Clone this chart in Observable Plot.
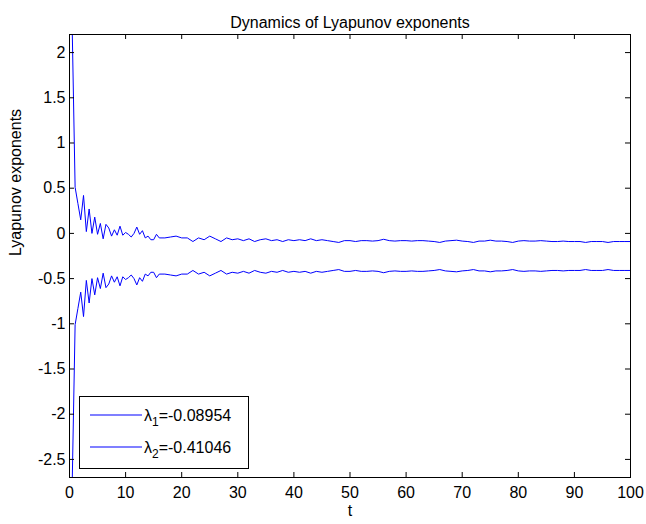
<!DOCTYPE html>
<html><head><meta charset="utf-8">
<script src="https://cdn.jsdelivr.net/npm/d3@7"></script>
<script src="https://cdn.jsdelivr.net/npm/@observablehq/plot@0.6"></script>
<style>
body{margin:0;background:#fff}
#chart svg{font-family:"Liberation Sans",Arial,Helvetica,sans-serif}
</style>
</head><body><div id="chart"></div><script>
const t = [0.5,1,1.5,2,2.5,3,3.5,4,4.5,5,5.5,6,6.5,7,7.5,8,8.5,9,9.5,10,10.5,11,11.5,12,12.5,13,13.5,14,14.5,15,15.5,16,
17,18,19,20,21,22,23,24,25,26,27,28,29,30,31,32,33,34,35,36,37,38,39,40,41,42,43,44,45,46,47,48,49,50,
51,52,53,54,55,56,57,58,59,60,61,62,63,64,65,66,67,68,69,70,71,72,73,74,75,76,77,78,79,80,
81,82,83,84,85,86,87,88,89,90,91,92,93,94,95,96,97,98,99,100];
const lambda1 = [2.20,0.51,0.33,0.15,0.42,0.02,0.27,0.00,0.18,-0.01,0.11,-0.06,0.10,0.06,-0.03,0.04,-0.02,0.08,-0.02,0.01,-0.01,-0.04,0.00,0.07,-0.01,0.03,-0.05,-0.03,-0.07,-0.07,-0.01,-0.05,
-0.05,-0.04,-0.03,-0.05,-0.05,-0.09,-0.05,-0.07,-0.03,-0.06,-0.09,-0.05,-0.07,-0.06,-0.08,-0.06,-0.09,-0.07,-0.06,-0.08,-0.07,-0.09,-0.07,-0.08,-0.07,-0.08,-0.06,-0.08,-0.07,-0.08,-0.09,-0.10,-0.08,-0.08,
-0.09,-0.08,-0.08,-0.085,-0.08,-0.065,-0.08,-0.085,-0.08,-0.08,-0.085,-0.08,-0.08,-0.085,-0.09,-0.10,-0.085,-0.08,-0.075,-0.085,-0.09,-0.10,-0.085,-0.085,-0.075,-0.085,-0.085,-0.09,-0.10,-0.085,
-0.08,-0.085,-0.085,-0.08,-0.085,-0.09,-0.09,-0.085,-0.09,-0.09,-0.09,-0.10,-0.09,-0.09,-0.09,-0.10,-0.09,-0.09,-0.09,-0.09];
const lambda2 = [-2.70,-1.01,-0.83,-0.65,-0.92,-0.52,-0.77,-0.50,-0.68,-0.49,-0.61,-0.44,-0.60,-0.56,-0.47,-0.54,-0.48,-0.58,-0.48,-0.51,-0.49,-0.46,-0.50,-0.57,-0.49,-0.53,-0.45,-0.47,-0.43,-0.43,-0.49,-0.45,
-0.45,-0.46,-0.47,-0.45,-0.45,-0.41,-0.45,-0.43,-0.47,-0.44,-0.41,-0.45,-0.43,-0.44,-0.42,-0.44,-0.41,-0.43,-0.44,-0.42,-0.43,-0.41,-0.43,-0.42,-0.43,-0.42,-0.44,-0.42,-0.43,-0.42,-0.41,-0.40,-0.42,-0.42,
-0.41,-0.42,-0.42,-0.415,-0.42,-0.435,-0.42,-0.415,-0.42,-0.42,-0.415,-0.42,-0.42,-0.415,-0.41,-0.40,-0.415,-0.42,-0.425,-0.415,-0.41,-0.40,-0.415,-0.415,-0.425,-0.415,-0.415,-0.41,-0.40,-0.415,
-0.42,-0.415,-0.415,-0.42,-0.415,-0.41,-0.41,-0.415,-0.41,-0.41,-0.41,-0.40,-0.41,-0.41,-0.41,-0.40,-0.41,-0.41,-0.41,-0.41];
const xTicks = [0,10,20,30,40,50,60,70,80,90,100];
const yTicks = [-2.5,-2,-1.5,-1,-0.5,0,0.5,1,1.5,2];
const seriesIndex = ["1","2"];
const finalValues = ["-0.08954","-0.41046"];
const titleText = "Dynamics of Lyapunov exponents";
const xLabel = "t";
const yLabel = "Lyapunov exponents";

const W = 646, H = 524, mL = 69, mR = 16, mT = 34, mB = 47;
const fw = W - mL - mR, fh = H - mT - mB;
const lineColor = "#0000ff";

const s1 = t.map((d, i) => ({t: d, v: lambda1[i]}));
const s2 = t.map((d, i) => ({t: d, v: lambda2[i]}));

const chart = Plot.plot({
  width: W, height: H,
  marginLeft: mL, marginRight: mR, marginTop: mT, marginBottom: mB,
  style: {fontSize: "16px", background: "#fff", color: "#000", overflow: "visible"},
  x: {domain: [0, 100]},
  y: {domain: [-2.7, 2.2]},
  marks: [
    Plot.line(s1, {x: "t", y: "v", stroke: lineColor, strokeWidth: 1}),
    Plot.line(s2, {x: "t", y: "v", stroke: lineColor, strokeWidth: 1}),
    Plot.tickX(xTicks, {x: d => d, insetTop: fh - 5, stroke: "#000"}),
    Plot.tickX(xTicks, {x: d => d, insetBottom: fh - 5, stroke: "#000"}),
    Plot.tickY(yTicks, {y: d => d, insetRight: fw - 5, stroke: "#000"}),
    Plot.tickY(yTicks, {y: d => d, insetLeft: fw - 5, stroke: "#000"}),
    Plot.axisX(xTicks, {tickSize: 0, tickPadding: 9, label: null, tickFormat: d => String(d)}),
    Plot.axisY(yTicks, {tickSize: 0, tickPadding: 4, label: null, tickFormat: d => String(d)}),
    Plot.frame({stroke: "#000"}),
    Plot.text([titleText], {text: d => d, frameAnchor: "top", dy: -18, fontSize: 16}),
    Plot.text([xLabel], {text: d => d, frameAnchor: "bottom", dy: 38, fontSize: 16}),
    Plot.text([yLabel], {text: d => d, frameAnchor: "left", dx: -54, rotate: -90, fontSize: 16})
  ]
});
document.getElementById("chart").appendChild(chart);

// legend box (MATLAB style, lower-left inside the axes)
const svg = d3.select(chart);
const lg = svg.append("g").attr("font-size", 16).attr("text-anchor", "start");
const bx = 79, by = 396, bw = 169, bh = 72;
lg.append("rect").attr("x", bx + 0.5).attr("y", by + 0.5).attr("width", bw).attr("height", bh)
  .attr("fill", "#fff").attr("stroke", "#000");
seriesIndex.forEach((s, i) => {
  const yy = by + 19 + i * 32;
  lg.append("line").attr("x1", bx + 11).attr("x2", bx + 63).attr("y1", yy).attr("y2", yy)
    .attr("stroke", lineColor).style("stroke", lineColor).attr("stroke-width", 1.2);
  const tx = lg.append("text").attr("x", bx + 65).attr("y", yy + 6).attr("text-anchor", "start");
  tx.append("tspan").text("λ");
  tx.append("tspan").attr("dy", 5).attr("font-size", 12).text(s);
  tx.append("tspan").attr("dy", -5).text("=" + finalValues[i]);
});
</script></body></html>
